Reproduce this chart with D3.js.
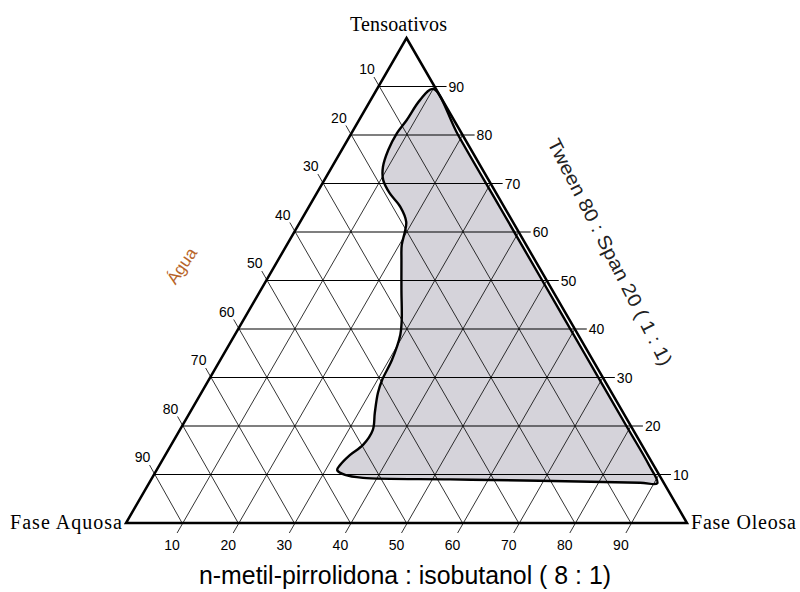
<!DOCTYPE html>
<html>
<head>
<meta charset="utf-8">
<script src="https://cdn.jsdelivr.net/npm/d3@7"></script>
<style>
  html, body { margin: 0; padding: 0; background: #fff; }
  svg { display: block; }
</style>
</head>
<body>
<svg id="chart" width="800" height="592"></svg>
<script>
// Vertex names of the ternary diagram
const vertexTop = "Tensoativos";
const vertexLeft = "Fase Aquosa";
const vertexRight = "Fase Oleosa";

// Axis titles
const titleBottom = "n-metil-pirrolidona : isobutanol ( 8 : 1)";
const titleRight = "Tween 80 : Span 20 ( 1 : 1)";
const titleLeft = "Água";

// Tick values (percent) used on all three sides
const tickValues = [10, 20, 30, 40, 50, 60, 70, 80, 90];

// Boundary of the shaded region, in percent (Tensoativos, Fase Oleosa);
// Fase Aquosa is the remainder to 100.
const regionTensoativos = [89.5, 80, 65, 50, 35, 20, 12, 8.2,
  8.3, 8.7, 9.0, 9.3, 9.9, 10.9, 12.0, 14.0, 16.1, 19.2, 22.7, 26.8, 29.5,
  33.6, 38.8, 41.9, 48.0, 54.2, 57.3, 60.0, 62.1, 65.2, 68.0, 70.7, 73.4,
  76.9, 80.4, 83.1, 87.2];
const regionOleosa = [10.0, 19.2, 34.2, 49.2, 64.2, 79.2, 87.2, 90.6,
  87.5, 69.4, 53.3, 37.6, 34.1, 32.2, 32.2, 32.9, 34.2, 34.4, 33.0, 31.5, 30.9,
  30.6, 29.5, 28.2, 25.1, 22.0, 20.5, 19.7, 18.9, 16.3, 13.0, 10.5, 9.1,
  8.3, 8.1, 8.5, 8.8];

const svg = d3.select("#chart");

// Scales: horizontal position follows (Oleosa + Tensoativos/2), vertical follows Tensoativos
const xScale = d3.scaleLinear().domain([0, 100]).range([126, 687]);
const yScale = d3.scaleLinear().domain([0, 100]).range([523, 38]);
const pt = (t, o) => [xScale(o + t / 2), yScale(t)];

const numFont = "'Liberation Sans', Arial, sans-serif";
const serifFont = "'Liberation Serif', 'Times New Roman', serif";

// Shaded region (fill first so the grid shows through)
const region = regionTensoativos.map((t, i) => pt(t, regionOleosa[i]));
const regionPath = d3.line().curve(d3.curveCatmullRomClosed.alpha(0.5))(region);
svg.append("path")
  .attr("d", regionPath)
  .attr("fill", "#d5d3da")
  .attr("stroke", "none");

// Grid lines
const grid = svg.append("g").attr("stroke", "#000").attr("fill", "none");
tickValues.forEach(v => {
  // constant Tensoativos (horizontal)
  const a = pt(v, 0), b = pt(v, 100 - v);
  grid.append("line").attr("x1", a[0]).attr("y1", a[1])
    .attr("x2", b[0] + 12).attr("y2", b[1]).attr("stroke-width", 1.2);
  // constant Fase Oleosa (parallel to left side)
  const c = pt(0, v), d = pt(100 - v, v);
  grid.append("line").attr("x1", c[0] - 5).attr("y1", c[1] + 10)
    .attr("x2", d[0]).attr("y2", d[1]).attr("stroke-width", 0.8);
  // constant Fase Aquosa (parallel to right side)
  const e = pt(100 - v, 0), f = pt(0, 100 - v);
  grid.append("line").attr("x1", e[0] - 4.5).attr("y1", e[1] - 9.5)
    .attr("x2", f[0]).attr("y2", f[1]).attr("stroke-width", 0.8);
});

// Region outline
svg.append("path")
  .attr("d", regionPath)
  .attr("fill", "none")
  .attr("stroke", "#000")
  .attr("stroke-width", 2.4)
  .attr("stroke-linejoin", "round");

// Triangle frame
const vTop = pt(100, 0), vLeft = pt(0, 0), vRight = pt(0, 100);
svg.append("path")
  .attr("d", d3.line()([vTop, vRight, vLeft]) + "Z")
  .attr("fill", "none")
  .attr("stroke", "#000")
  .attr("stroke-width", 2.5)
  .attr("stroke-linejoin", "miter");

// Tick labels
const labels = svg.append("g")
  .attr("font-family", numFont)
  .attr("font-size", 14)
  .attr("fill", "#000");
tickValues.forEach(v => {
  const r = pt(v, 100 - v);
  labels.append("text").attr("x", r[0] + 14).attr("y", r[1])
    .attr("dominant-baseline", "central").attr("text-anchor", "start").text(v);
  const l = pt(100 - v, 0);
  labels.append("text").attr("x", l[0] - 11.5).attr("y", l[1] - 17.5)
    .attr("dominant-baseline", "central").attr("text-anchor", "middle").text(v);
  const b = pt(0, v);
  labels.append("text").attr("x", b[0] - 10).attr("y", b[1] + 22)
    .attr("dominant-baseline", "central").attr("text-anchor", "middle").text(v);
});

// Vertex names
svg.append("text").attr("x", vTop[0] - 8).attr("y", vTop[1] - 7)
  .attr("font-family", serifFont).attr("font-size", 20)
  .attr("text-anchor", "middle")
  .attr("textLength", 97).attr("lengthAdjust", "spacing")
  .text(vertexTop);
svg.append("text").attr("x", 10).attr("y", vLeft[1] + 6)
  .attr("font-family", serifFont).attr("font-size", 20)
  .attr("text-anchor", "start")
  .attr("textLength", 112).attr("lengthAdjust", "spacing")
  .text(vertexLeft);
svg.append("text").attr("x", vRight[0] + 4).attr("y", vRight[1] + 6)
  .attr("font-family", serifFont).attr("font-size", 20)
  .attr("text-anchor", "start")
  .attr("textLength", 105).attr("lengthAdjust", "spacing")
  .text(vertexRight);

// Axis titles
svg.append("text").attr("x", 405).attr("y", 584)
  .attr("font-family", numFont).attr("font-size", 25)
  .attr("text-anchor", "middle")
  .attr("textLength", 412).attr("lengthAdjust", "spacingAndGlyphs")
  .text(titleBottom);

svg.append("text")
  .attr("transform", "translate(610,252) rotate(63)")
  .attr("font-family", numFont).attr("font-size", 19)
  .attr("text-anchor", "middle").attr("dominant-baseline", "central")
  .attr("textLength", 252).attr("lengthAdjust", "spacingAndGlyphs")
  .attr("fill", "#222")
  .text(titleRight);

svg.append("text")
  .attr("transform", "translate(182,266) rotate(-56)")
  .attr("font-family", numFont).attr("font-size", 17)
  .attr("text-anchor", "middle").attr("dominant-baseline", "central")
  .attr("fill", "#b8652a")
  .text(titleLeft);
</script>
</body>
</html>
